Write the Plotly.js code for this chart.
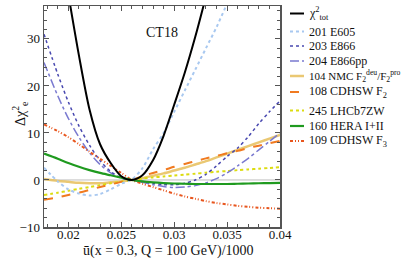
<!DOCTYPE html>
<html>
<head>
<meta charset="utf-8">
<script src="https://cdn.plot.ly/plotly-3.0.1.min.js"></script>
<style>html,body{margin:0;padding:0;background:#fff;}#chart{width:407px;height:259px;}</style>
</head>
<body>
<div id="chart"></div>
<script>
// shared x grid (ubar(x=0.3,Q=100 GeV)/1000)
const xGrid = [0.0177, 0.019, 0.020, 0.021, 0.022, 0.023, 0.024, 0.025, 0.026, 0.027, 0.028, 0.029, 0.030, 0.031, 0.032, 0.033, 0.034, 0.035, 0.036, 0.037, 0.038, 0.039, 0.040];

const xTot = [0.020, 0.021, 0.022, 0.023, 0.024, 0.025, 0.026, 0.027, 0.028, 0.029, 0.030, 0.031, 0.032, 0.033];
const yTot = [39.5, 26.5, 15.0, 7.6, 3.6, 0.8, 0.0, 1.0, 4.2, 9.4, 16.0, 22.8, 30.5, 39.0];

const x201 = [0.0177, 0.019, 0.020, 0.021, 0.022, 0.023, 0.024, 0.025, 0.026, 0.027, 0.028, 0.029, 0.030, 0.031, 0.032, 0.033, 0.034, 0.035];
const y201 = [2.6, -0.3, -2.0, -2.9, -3.3, -3.0, -2.0, -0.8, 0.1, 2.5, 6.5, 10.0, 14.5, 19.0, 23.5, 28.0, 32.5, 37.5];

const y203 = [31.0, 22.5, 16.6, 11.5, 7.4, 4.1, 1.8, 0.46, 0.0, -0.3, -0.7, -1.0, -1.0, -0.7, 0.0, 1.2, 3.0, 5.0, 6.8, 9.2, 12.0, 14.5, 16.8];
const y204 = [25.0, 17.9, 13.1, 9.1, 5.8, 3.3, 1.5, 0.4, 0.0, -0.5, -1.0, -1.4, -1.6, -1.5, -1.2, -0.6, 0.3, 1.5, 3.0, 4.6, 6.4, 8.2, 10.0];
const y104 = [0.2, -0.2, -0.4, -0.6, -0.7, -0.7, -0.5, -0.3, 0.0, 0.4, 0.9, 1.4, 2.0, 2.6, 3.3, 4.0, 4.8, 5.6, 6.4, 7.2, 8.0, 8.8, 9.6];
const y108 = [-4.2, -3.7, -3.2, -2.7, -2.1, -1.5, -0.95, -0.4, 0.0, 0.8, 1.5, 2.1, 2.8, 3.4, 4.0, 4.6, 5.1, 5.7, 6.2, 6.8, 7.3, 7.8, 8.3];
const y245 = [-3.2, -2.7, -2.3, -1.9, -1.5, -1.1, -0.7, -0.35, 0.0, 0.3, 0.55, 0.75, 0.95, 1.15, 1.35, 1.55, 1.75, 1.9, 2.1, 2.25, 2.4, 2.55, 2.7];
const y160 = [5.6, 4.5, 3.6, 2.8, 2.1, 1.5, 1.0, 0.5, 0.0, -0.3, -0.5, -0.65, -0.75, -0.8, -0.85, -0.85, -0.85, -0.85, -0.8, -0.75, -0.7, -0.65, -0.6];
const y109 = [11.8, 10.4, 9.1, 7.6, 6.0, 4.5, 3.0, 1.5, 0.0, -0.8, -1.5, -2.2, -2.9, -3.5, -4.0, -4.5, -4.9, -5.2, -5.5, -5.7, -5.9, -6.0, -6.1];

// legend labels, in the reference's order
const legendLabels = [
  'χ<sup>2</sup><sub>tot</sub>',
  '201 E605',
  '203 E866',
  '204 E866pp',
  '104 NMC F<sub>2</sub><sup>deu</sup>/F<sub>2</sub><sup>pro</sup>',
  '108 CDHSW F<sub>2</sub>',
  '245 LHCb7ZW',
  '160 HERA I+II',
  '109 CDHSW F<sub>3</sub>'
];

const xTicks = [0.02, 0.025, 0.03, 0.035, 0.04];
const xTickText = ['0.02', '0.025', '0.03', '0.035', '0.04'];
const yTicks = [-10, 0, 10, 20, 30];

// styles (index order matches legendLabels)
const styles = [
  {color: '#000000', width: 2, dash: 'solid'},
  {color: '#a8c8f0', width: 2, dash: 'dot'},
  {color: '#4848b0', width: 1.5, dash: 'dot'},
  {color: '#7a7ad0', width: 1.5, dash: 'dashdot'},
  {color: 'rgba(230,190,90,0.85)', width: 2.5, dash: 'solid'},
  {color: '#f07a20', width: 2, dash: 'dash'},
  {color: '#dcdc10', width: 2, dash: 'dot'},
  {color: '#1f9a1f', width: 2.2, dash: 'solid'},
  {color: '#e8561e', width: 2, dash: '3px,2px,1px,2px,1px,2px'}
];
const sp = {shape: 'spline', smoothing: 0.8};
function ln(i) { return Object.assign({}, styles[i], sp); }

const traces = [
  {x: [xGrid[0], xGrid[xGrid.length-1]], y: [0, 0], mode: 'lines', line: {color: '#bdbdbd', width: 1}, hoverinfo: 'skip'},
  {x: xGrid, y: y104, name: legendLabels[4], mode: 'lines', line: ln(4)},
  {x: xGrid, y: y245, name: legendLabels[6], mode: 'lines', line: ln(6)},
  {x: xGrid, y: y108, name: legendLabels[5], mode: 'lines', line: ln(5)},
  {x: xGrid, y: y204, name: legendLabels[3], mode: 'lines', line: ln(3)},
  {x: xGrid, y: y203, name: legendLabels[2], mode: 'lines', line: ln(2)},
  {x: x201, y: y201, name: legendLabels[1], mode: 'lines', line: ln(1)},
  {x: xGrid, y: y109, name: legendLabels[8], mode: 'lines', line: ln(8)},
  {x: xGrid, y: y160, name: legendLabels[7], mode: 'lines', line: ln(7)},
  {x: xTot, y: yTot, name: legendLabels[0], mode: 'lines', line: ln(0)}
];

const serif = 'Liberation Serif, Times New Roman, serif';
const axisCommon = {
  showgrid: false, zeroline: false, showline: true, linecolor: '#555', linewidth: 1.5,
  mirror: 'allticks', ticks: 'inside', ticklen: 5, tickcolor: '#555', tickwidth: 1,
  tickfont: {family: serif, size: 13, color: '#111'}
};

// compact legend placed in the right margin (positions in plot-area fractions)
const plotL = 44, plotR = 280, plotT = 6, plotB = 227;
const px2x = px => (px - plotL) / (plotR - plotL);
const py2y = py => (plotB - py) / (plotB - plotT);
const legendRowsPx = [13.5, 31.5, 46, 61, 76, 92, 110.5, 126, 141];
const legendFontSizes = [12, 12, 12, 12, 11, 12, 12, 12, 12];

const shapes = [];
const annotations = [
  {text: 'CT18', xref: 'paper', yref: 'paper', x: 0.5, y: 0.923, showarrow: false,
   font: {family: serif, size: 14, color: '#111'}},
  {text: 'Δχ<sup>2</sup><sub>e</sub>', xref: 'paper', yref: 'paper', x: px2x(20), y: py2y(114),
   xanchor: 'center', yanchor: 'middle', textangle: -90, showarrow: false,
   font: {family: serif, size: 14, color: '#111'}},
  {text: 'ū(x = 0.3, Q = 100 GeV)/1000', xref: 'paper', yref: 'paper', x: px2x(168), y: py2y(250.5),
   xanchor: 'center', yanchor: 'middle', showarrow: false, font: {family: serif, size: 14, color: '#111'}}
];
legendLabels.forEach((lab, i) => {
  const yy = py2y(legendRowsPx[i]);
  shapes.push({type: 'line', xref: 'paper', yref: 'paper', x0: px2x(290), x1: px2x(304), y0: yy, y1: yy,
               line: {color: styles[i].color, width: styles[i].width, dash: styles[i].dash}});
  annotations.push({text: lab, xref: 'paper', yref: 'paper', x: px2x(307), y: yy,
                    xanchor: 'left', yanchor: 'middle', showarrow: false,
                    font: {family: serif, size: legendFontSizes[i], color: '#111'}});
});

const layout = {
  width: 407, height: 259,
  margin: {l: plotL, r: 407 - plotR, t: plotT, b: 259 - plotB},
  paper_bgcolor: '#fff', plot_bgcolor: '#fff',
  showlegend: false,
  xaxis: Object.assign({}, axisCommon, {
    range: [0.0177, 0.040], tickvals: xTicks, ticktext: xTickText, ticklabelstandoff: -5,
    minor: {dtick: 0.001, tick0: 0.02, ticks: 'inside', ticklen: 3, tickcolor: '#555'}
  }),
  yaxis: Object.assign({}, axisCommon, {
    range: [-10, 37], tickvals: yTicks,
    minor: {dtick: 2, tick0: 0, ticks: 'inside', ticklen: 3, tickcolor: '#555'}
  }),
  shapes: shapes,
  annotations: annotations
};

Plotly.newPlot('chart', traces, layout, {displayModeBar: false, staticPlot: true});
</script>
</body>
</html>
